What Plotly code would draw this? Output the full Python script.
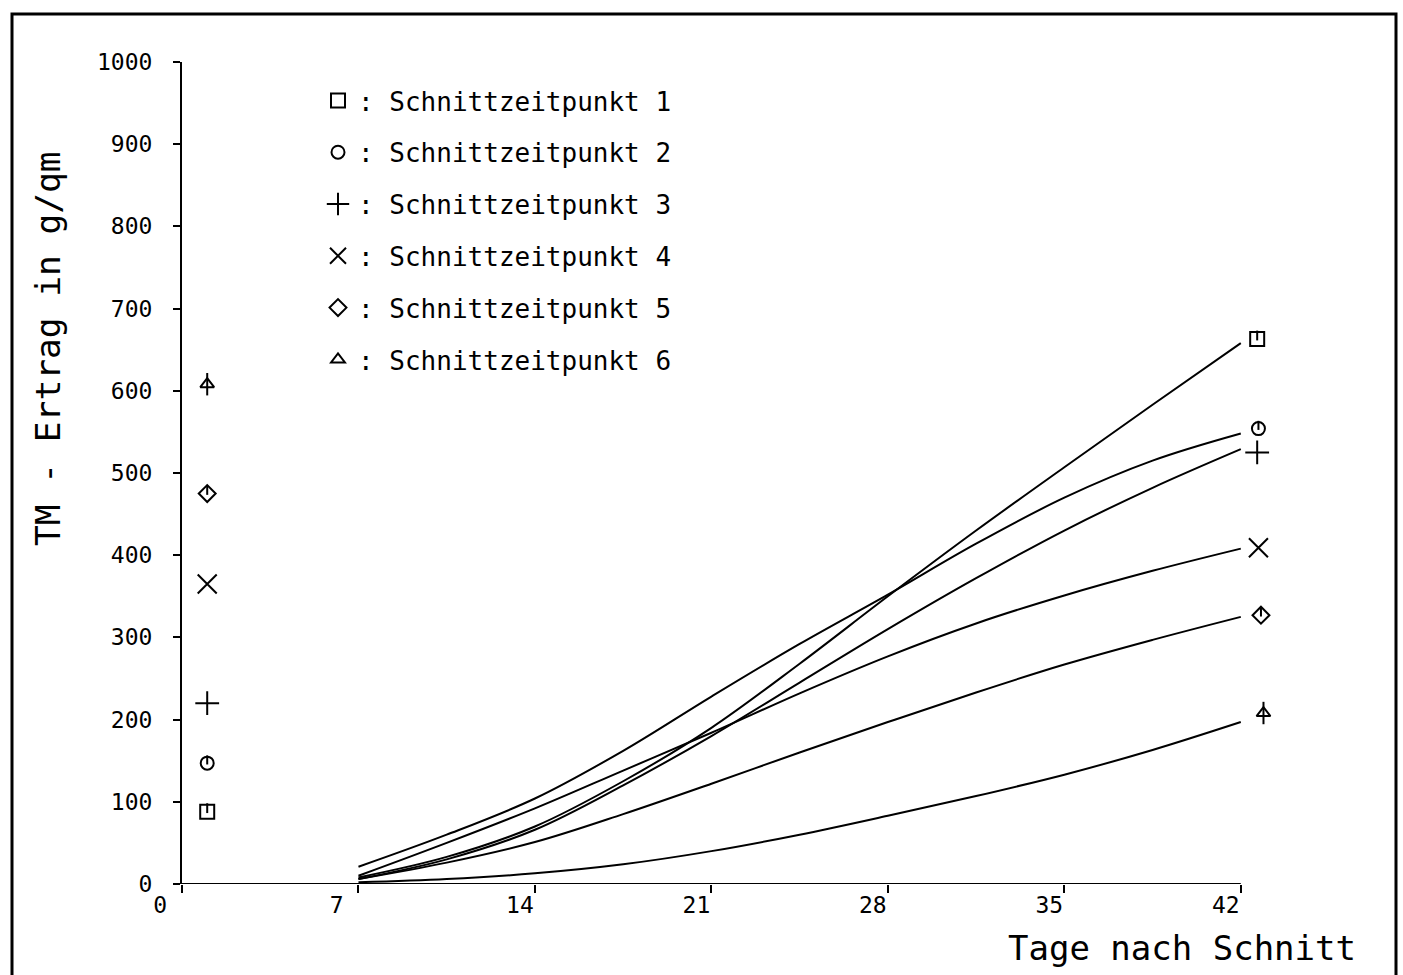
import plotly.graph_objects as go

# Days after cutting at which the fitted growth curves are sampled
days = [7, 10.5, 14, 17.5, 21, 24.5, 28, 31.5, 35, 38.5, 42]

# Fitted dry-matter yield (g/qm) per cutting date
curve_1 = [8, 33, 70, 125, 190, 268, 350, 430, 507, 583, 658]
curve_2 = [21, 60, 104, 162, 228, 292, 352, 414, 470, 515, 548]
curve_3 = [6, 30, 66, 120, 180, 245, 310, 372, 430, 482, 529]
curve_4 = [10, 50, 92, 138, 184, 232, 277, 317, 351, 381, 408]
curve_5 = [6, 26, 51, 85, 122, 160, 197, 233, 267, 297, 325]
curve_6 = [2, 6, 13, 24, 40, 60, 83, 107, 133, 163, 197]

# Measured yields: early value near day 1 and final value just past day 42
obs_days_start = [1.0, 1.0, 1.0, 1.0, 1.0, 1.0]
obs_days_end = [42.65, 42.7, 42.65, 42.7, 42.8, 42.9]
obs_start = [88, 147, 220, 365, 475, 608]
obs_end = [663, 554, 525, 409, 327, 208]

series_names = [": Schnittzeitpunkt 1", ": Schnittzeitpunkt 2", ": Schnittzeitpunkt 3",
                ": Schnittzeitpunkt 4", ": Schnittzeitpunkt 5", ": Schnittzeitpunkt 6"]
x_ticks = [0, 7, 14, 21, 28, 35, 42]
x_tick_text = ["0\u00a0", "7\u00a0", "14", "21", "28", "35", "42"]
y_ticks = [0, 100, 200, 300, 400, 500, 600, 700, 800, 900, 1000]

curves = [curve_1, curve_2, curve_3, curve_4, curve_5, curve_6]
symbols = ["square-open", "circle-open", "cross-thin-open", "x-thin-open",
           "diamond-open", "triangle-up-open"]
sizes = [14, 13, 17, 19, 13, 12]
# symbols drawn with a short notch from the top edge down to the centre
notched = [True, True, False, False, True, False]

FONT = "DejaVu Sans Mono"
W, H = 1403, 975
L, R, T, B = 182, 137, 62, 91
X_MAX = 43  # a little room past day 42 for the final measurements
Y_MAX = 1000
pw, ph = W - L - R, H - T - B


def px_to_paper_x(px):
    return (px - L) / pw


def px_to_paper_y(py):
    return (H - B - py) / ph


fig = go.Figure()

for k, ys in enumerate(curves):
    fig.add_trace(go.Scatter(
        x=days, y=ys, mode="lines",
        line=dict(color="black", width=2, shape="spline", smoothing=1.0),
        showlegend=False, hoverinfo="skip", cliponaxis=False,
    ))

for k in range(6):
    xs = [obs_days_start[k], obs_days_end[k]]
    ys = [obs_start[k], obs_end[k]]
    fig.add_trace(go.Scatter(
        x=xs, y=ys, mode="markers", name=series_names[k], legendgroup=f"g{k}",
        marker=dict(symbol=symbols[k], size=sizes[k], color="black",
                    line=dict(color="black", width=2)),
        cliponaxis=False, hoverinfo="skip",
    ))
    if notched[k]:
        # half-height notch: a short vertical stroke shifted up by a quarter of the symbol
        shift = (sizes[k] / 4) * Y_MAX / ph
        fig.add_trace(go.Scatter(
            x=xs, y=[v + shift for v in ys], mode="markers", showlegend=False,
            marker=dict(symbol="line-ns-open", size=sizes[k] / 2, color="black",
                        line=dict(color="black", width=2)),
            cliponaxis=False, hoverinfo="skip",
        ))
    if k == 5:
        # stem through the triangle
        fig.add_trace(go.Scatter(
            x=xs, y=ys, mode="markers", showlegend=False,
            marker=dict(symbol="line-ns-open", size=16, color="black",
                        line=dict(color="black", width=2)),
            cliponaxis=False, hoverinfo="skip",
        ))

fig.update_xaxes(
    range=[0, X_MAX], tickvals=x_ticks, ticktext=x_tick_text,
    showgrid=False, zeroline=False, showline=False,
    ticks="outside", ticklen=8, tickwidth=2, tickcolor="black",
    tickfont=dict(family=FONT, size=23, color="black"),
    ticklabelshift=-15, ticklabelstandoff=-8,
)
fig.update_yaxes(
    range=[0, Y_MAX], tickvals=y_ticks,
    showgrid=False, zeroline=False, showline=True, linecolor="black", linewidth=2,
    ticks="outside", ticklen=7, tickwidth=2, tickcolor="black",
    tickfont=dict(family=FONT, size=23, color="black"),
    ticklabelstandoff=16,
)

# x axis line, ending at the last tick
fig.add_shape(type="line", xref="x", yref="y", x0=0, x1=x_ticks[-1], y0=0, y1=0,
              line=dict(color="black", width=2))

# Page frame around the figure
fig.add_shape(type="rect", xref="paper", yref="paper",
              x0=px_to_paper_x(12), x1=px_to_paper_x(1396),
              y0=px_to_paper_y(1010), y1=px_to_paper_y(14),
              line=dict(color="black", width=3), fillcolor="rgba(0,0,0,0)")

fig.add_annotation(text="Tage nach Schnitt", xref="paper", yref="paper",
                   x=px_to_paper_x(1006), y=px_to_paper_y(948),
                   xanchor="left", yanchor="middle", showarrow=False,
                   font=dict(family=FONT, size=34, color="black"))
fig.add_annotation(text="TM - Ertrag in g/qm", xref="paper", yref="paper",
                   x=px_to_paper_x(48), y=px_to_paper_y(349),
                   xanchor="center", yanchor="middle", textangle=-90, showarrow=False,
                   font=dict(family=FONT, size=34.5, color="black"))

fig.update_layout(
    width=W, height=H,
    margin=dict(l=L, r=R, t=T, b=B, autoexpand=False),
    paper_bgcolor="white", plot_bgcolor="white",
    showlegend=True,
    legend=dict(x=px_to_paper_x(318), y=px_to_paper_y(77), xanchor="left", yanchor="top",
                font=dict(family=FONT, size=26, color="black"),
                tracegroupgap=15, bgcolor="rgba(0,0,0,0)", itemclick=False),
)

fig.write_html("out.html")
